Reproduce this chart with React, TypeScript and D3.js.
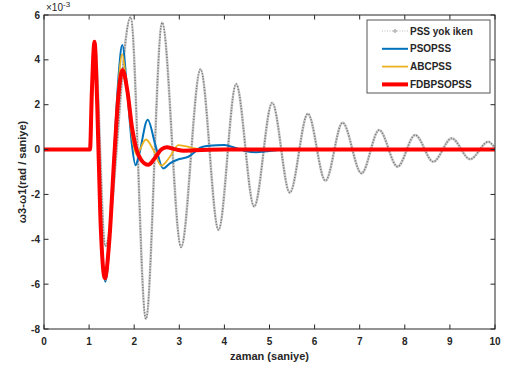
import React from "react";
import * as d3 from "d3";

// time (s) and values (×10^-3 rad/s)
const grayT = [0, 1.02, 1.12, 1.36, 1.92, 2.26, 2.62, 3.04, 3.47, 3.87, 4.26, 4.66, 5.06, 5.45, 5.85, 6.24, 6.62, 7.04, 7.43, 7.84, 8.23, 8.63, 9.04, 9.45, 9.85, 10];
const grayV = [0, 0, 4.8, -4.3, 5.9, -7.55, 5.66, -4.35, 3.58, -3.58, 2.92, -2.54, 2.09, -1.92, 1.6, -1.39, 1.2, -1.06, 0.87, -0.76, 0.65, -0.54, 0.5, -0.43, 0.35, 0.06];

const blueT = [0, 1.02, 1.06, 1.12, 1.18, 1.25, 1.36, 1.46, 1.55, 1.65, 1.735, 1.85, 1.95, 2.03, 2.1, 2.3, 2.47, 2.64, 2.8, 3.0, 3.2, 3.35, 3.46, 3.65, 4.0, 4.23, 4.46, 4.7, 5.0, 5.4, 10];
const blueV = [0, 0, 2.5, 4.81, 2.0, -3.0, -5.89, -3.9, -0.3, 3.2, 4.66, 2.5, 0.2, -0.7, -0.3, 1.33, 0.2, -0.84, -0.6, -0.42, -0.32, -0.1, 0.09, 0.17, 0.2, 0.08, -0.06, -0.12, -0.06, 0, 0];

const yellowT = [0, 1.02, 1.06, 1.12, 1.18, 1.25, 1.36, 1.46, 1.55, 1.65, 1.735, 1.85, 1.95, 2.05, 2.26, 2.42, 2.6, 2.8, 2.98, 3.2, 3.3, 3.5, 4.0, 10];
const yellowV = [0, 0, 2.5, 4.81, 2.0, -3.0, -5.8, -3.9, -0.5, 2.9, 4.26, 2.4, 0.6, -0.22, 0.45, 0.0, -0.72, -0.3, 0.2, 0.12, 0.06, 0.02, 0, 0];

const redT = [0, 1.02, 1.06, 1.12, 1.18, 1.25, 1.35, 1.45, 1.55, 1.65, 1.74, 1.85, 1.95, 2.05, 2.15, 2.31, 2.45, 2.6, 2.72, 2.9, 3.1, 3.5, 4.0, 10];
const redV = [0, 0, 2.5, 4.81, 2.0, -3.0, -5.74, -4.0, -0.6, 2.4, 3.55, 2.6, 1.0, 0.0, -0.45, -0.68, -0.4, 0.0, 0.1, 0.02, -0.05, -0.02, 0, 0];

const xTicks = [0, 1, 2, 3, 4, 5, 6, 7, 8, 9, 10];
const yTicks = [-8, -6, -4, -2, 0, 2, 4, 6];
const legendLabels = ["PSS yok iken", "PSOPSS", "ABCPSS", "FDBPSOPSS"];

const W = 506, H = 369;
const L = 44, R = 495, T = 15, B = 329;
const FONT = "'Liberation Sans', Arial, Helvetica, sans-serif";
const AX = "#262626";

export default function App() {
  const x = d3.scaleLinear().domain([0, 10]).range([L, R]);
  const y = d3.scaleLinear().domain([-8, 6]).range([B, T]);
  const line = d3
    .line<[number, number]>()
    .x((d) => x(d[0]))
    .y((d) => y(d[1]))
    .curve(d3.curveMonotoneX);
  const mk = (t: number[], v: number[]) => line(t.map((ti, i) => [ti, v[i]] as [number, number])) || "";

  const series = [
    { t: grayT, v: grayV },
    { t: blueT, v: blueV, color: "#0072BD", w: 2 },
    { t: yellowT, v: yellowV, color: "#EDB120", w: 1.8 },
    { t: redT, v: redV, color: "#FF0000", w: 4 },
  ];
  const tl = 4.5;

  return (
    <svg width={W} height={H} style={{ position: "absolute", left: 0, top: 0, background: "#fff" }} fontFamily={FONT}>
      <defs>
        <clipPath id="plot">
          <rect x={L} y={T} width={R - L} height={B - T} />
        </clipPath>
      </defs>
      <rect x={0} y={0} width={W} height={H} fill="#fff" />
      <g clipPath="url(#plot)">
        <path d={mk(grayT, grayV)} fill="none" stroke="#cfcfcf" strokeWidth={2.6} />
        <path d={mk(grayT, grayV)} fill="none" stroke="#7d7d7d" strokeWidth={1.6} strokeDasharray="1.2 1.6" />
        {series.slice(1).map((s, i) => (
          <path key={i} d={mk(s.t, s.v)} fill="none" stroke={s.color} strokeWidth={s.w} strokeLinejoin="round" />
        ))}
      </g>
      {/* frame */}
      <rect x={L} y={T} width={R - L} height={B - T} fill="none" stroke={AX} strokeWidth={1} />
      {xTicks.map((t) => (
        <g key={"x" + t}>
          <line x1={x(t)} x2={x(t)} y1={B} y2={B - tl} stroke={AX} />
          <line x1={x(t)} x2={x(t)} y1={T} y2={T + tl} stroke={AX} />
          <text x={x(t)} y={345} textAnchor="middle" fontSize={10} fontWeight="bold" fill={AX}>
            {t}
          </text>
        </g>
      ))}
      {yTicks.map((v) => (
        <g key={"y" + v}>
          <line x1={L} x2={L + tl} y1={y(v)} y2={y(v)} stroke={AX} />
          <line x1={R} x2={R - tl} y1={y(v)} y2={y(v)} stroke={AX} />
          <text x={40} y={y(v)} dy="0.35em" textAnchor="end" fontSize={10} fontWeight="bold" fill={AX}>
            {v}
          </text>
        </g>
      ))}
      <text x={46} y={11} fontSize={10} fill={AX}>
        ×10<tspan dy={-4} fontSize={8}>-3</tspan>
      </text>
      <text x={(L + R) / 2} y={360} textAnchor="middle" fontSize={11} fontWeight="bold" fill={AX}>
        zaman (saniye)
      </text>
      <text transform={`translate(26,${(T + B) / 2}) rotate(-90)`} textAnchor="middle" fontSize={11} fontWeight="bold" fill={AX}>
        ω3-ω1(rad / saniye)
      </text>
      {/* legend */}
      <rect x={367} y={20} width={123} height={73} fill="#fff" stroke="#555" strokeWidth={1} />
      {legendLabels.map((lab, i) => {
        const ly = 31 + i * 17.8;
        const s = series[i];
        return (
          <g key={lab}>
            {i === 0 ? (
              <>
                <line x1={382} x2={408} y1={ly} y2={ly} stroke="#bbb" strokeWidth={1} strokeDasharray="1 1.5" />
                <circle cx={395} cy={ly} r={1.3} fill="none" stroke="#888" strokeWidth={0.8} />
              </>
            ) : (
              <line x1={382} x2={408} y1={ly} y2={ly} stroke={s.color} strokeWidth={s.w} />
            )}
            <text x={410} y={ly} dy="0.35em" fontSize={10} fontWeight="bold" fill={AX}>
              {lab}
            </text>
          </g>
        );
      })}
    </svg>
  );
}
